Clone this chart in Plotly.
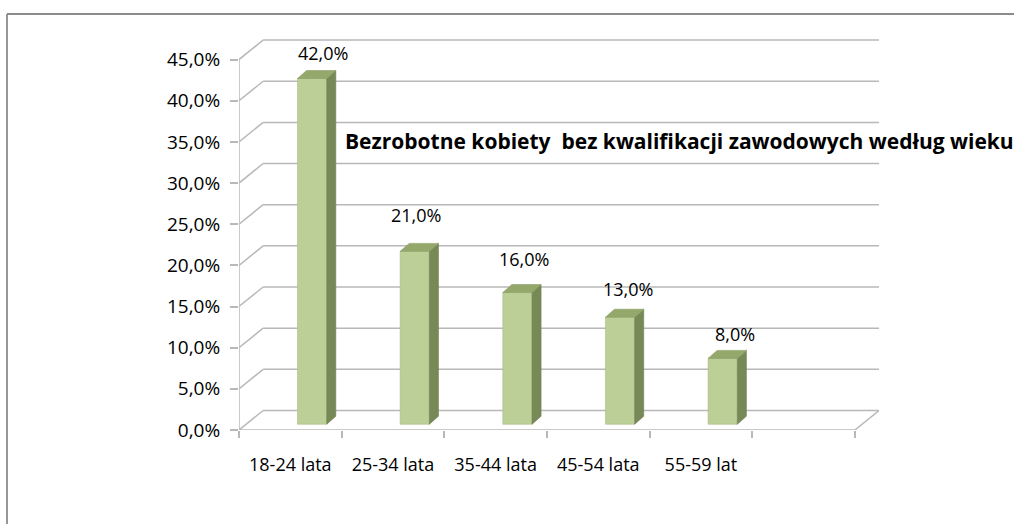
import plotly.graph_objects as go

# ---- data ----
categories = ["18-24 lata", "25-34 lata", "35-44 lata", "45-54 lata", "55-59 lat"]
values = [42.0, 21.0, 16.0, 13.0, 8.0]
y_ticks = [0, 5, 10, 15, 20, 25, 30, 35, 40, 45]
title_text = "Bezrobotne kobiety\u00a0 bez kwalifikacji zawodowych według wieku"

# ---- layout geometry (pixels) ----
W, H = 1014, 524
ML, MR, MT, MB = 239, 135, 39, 94
PW, PH = W - ML - MR, H - MT - MB
FONT = "Open Sans"

n_slots = 6
wall_dx = 0.235      # depth offset of back wall (x units)
wall_dy = 2.37       # depth offset of back wall (y units)
x_lo, x_hi = -0.5, n_slots - 0.5 + wall_dx
y_lo, y_hi = 0, 47.5

bar_off, bar_w, bar_base = 0.07, 0.285, 0.7
bar_ddx, bar_ddy = 0.088, 0.97

front_col = "#BBCF97"
side_col = "#778957"
top_col = "#94A86C"
grid_col = "#B8B8B8"

def px_to_paper_x(px):
    return (px - ML) / PW

def px_to_paper_y(py):
    return (H - MB - py) / PH

fig = go.Figure()

# front faces as bars
xs = [i + bar_off + bar_w / 2 for i in range(len(values))]
fig.add_trace(go.Bar(
    x=xs, y=values, base=[bar_base] * len(values), width=bar_w,
    marker=dict(color=front_col, line=dict(color="#A9BD86", width=0.6)),
    hoverinfo="skip", showlegend=False,
))

# side and top faces
for i, v in enumerate(values):
    x0 = i + bar_off
    x1 = x0 + bar_w
    b = bar_base
    t = bar_base + v
    fig.add_trace(go.Scatter(
        x=[x1, x1 + bar_ddx, x1 + bar_ddx, x1, x1],
        y=[b, b + bar_ddy, t + bar_ddy, t, b],
        fill="toself", fillcolor=side_col, mode="lines",
        line=dict(color="#6E7F50", width=0.6), hoverinfo="skip", showlegend=False,
    ))
    fig.add_trace(go.Scatter(
        x=[x0, x1, x1 + bar_ddx, x0 + bar_ddx, x0],
        y=[t, t, t + bar_ddy, t + bar_ddy, t],
        fill="toself", fillcolor=top_col, mode="lines",
        line=dict(color="#8A9E63", width=0.6), hoverinfo="skip", showlegend=False,
    ))

shapes = []
# gridlines: left diagonal + back wall line
for v in y_ticks:
    shapes.append(dict(type="line", xref="x", yref="y", layer="below",
                       x0=x_lo, y0=v, x1=x_lo + wall_dx, y1=v + wall_dy,
                       line=dict(color=grid_col, width=1.5)))
    shapes.append(dict(type="line", xref="x", yref="y", layer="below",
                       x0=x_lo + wall_dx, y0=v + wall_dy, x1=x_hi, y1=v + wall_dy,
                       line=dict(color=grid_col, width=1.5)))
# front y axis line
shapes.append(dict(type="line", xref="x", yref="y", layer="below",
                   x0=x_lo, y0=0, x1=x_lo, y1=max(y_ticks),
                   line=dict(color=grid_col, width=1.5)))
# front floor line + right floor diagonal
shapes.append(dict(type="line", xref="x", yref="y", layer="below",
                   x0=x_lo, y0=0, x1=n_slots - 0.5, y1=0,
                   line=dict(color=grid_col, width=1.5)))
shapes.append(dict(type="line", xref="x", yref="y", layer="below",
                   x0=n_slots - 0.5, y0=0, x1=x_hi, y1=wall_dy,
                   line=dict(color=grid_col, width=1.5)))
# chart border (top and left)
shapes.append(dict(type="line", xref="paper", yref="paper",
                   x0=px_to_paper_x(7), y0=px_to_paper_y(14),
                   x1=px_to_paper_x(W + 5), y1=px_to_paper_y(14),
                   line=dict(color="#8C8C8C", width=1.8)))
shapes.append(dict(type="line", xref="paper", yref="paper",
                   x0=px_to_paper_x(7), y0=px_to_paper_y(14),
                   x1=px_to_paper_x(7), y1=px_to_paper_y(H + 5),
                   line=dict(color="#8C8C8C", width=1.8)))

annotations = []
# data labels (manual offsets as placed in the original)
label_xshift = [10.9, 1.3, 6.7, 7.6, 12.0]
label_yshift = [25.6, 36.4, 33.8, 28.3, 24.4]
for i, v in enumerate(values):
    annotations.append(dict(
        x=xs[i], y=v + bar_base, xref="x", yref="y",
        text=f"{v:.1f}".replace(".", ",") + "%",
        showarrow=False, xanchor="center", yanchor="middle",
        xshift=label_xshift[i], yshift=label_yshift[i],
        font=dict(family=FONT, size=18, color="#000000"),
    ))
# chart title (overlapping the plot like in the original)
annotations.append(dict(
    x=px_to_paper_x(343), y=px_to_paper_y(141), xref="paper", yref="paper",
    text="<b>" + title_text + "</b>", showarrow=False,
    xanchor="left", yanchor="middle",
    font=dict(family=FONT, size=21, color="#000000"),
))

fig.update_layout(
    width=W, height=H, autosize=False,
    margin=dict(l=ML, r=MR, t=MT, b=MB, pad=0),
    paper_bgcolor="white", plot_bgcolor="white",
    separators=", ",
    shapes=shapes, annotations=annotations,
    showlegend=False,
    font=dict(family=FONT, size=18, color="#000000"),
)
fig.update_xaxes(
    range=[x_lo, x_hi], showgrid=False, zeroline=False, showline=False,
    tickmode="array", tickvals=list(range(len(categories))), ticktext=categories,
    ticks="", ticklabelstandoff=22,
    tickfont=dict(family=FONT, size=18, color="#000000"),
    minor=dict(ticks="outside", tick0=-0.5, dtick=1, ticklen=7,
               tickcolor=grid_col, tickwidth=1.5, showgrid=False),
)
fig.update_yaxes(
    range=[y_lo, y_hi], showgrid=False, zeroline=False, showline=False,
    tickmode="array", tickvals=y_ticks,
    ticktext=[f"{t:.1f}".replace(".", ",") + "%" for t in y_ticks],
    ticks="outside", ticklen=8, tickcolor=grid_col, tickwidth=1.5,
    ticklabelstandoff=6,
    tickfont=dict(family=FONT, size=19, color="#000000"),
)

fig.write_html(
    "out.html",
    config={"displayModeBar": False},
    post_script="document.body.style.margin='0';document.body.style.overflow='hidden';",
)
